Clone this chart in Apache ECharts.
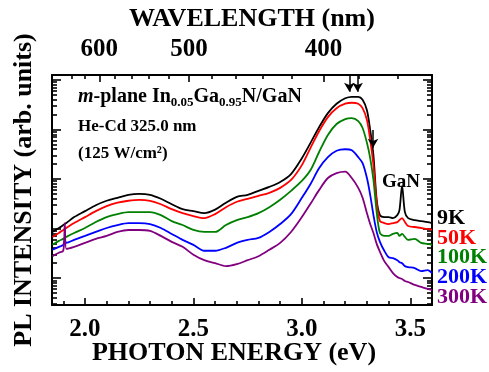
<!DOCTYPE html>
<html>
<head>
<meta charset="utf-8">
<script src="https://cdn.jsdelivr.net/npm/echarts@6/dist/echarts.min.js"></script>
<style>
html, body { margin: 0; padding: 0; background: #fff; }
#main { width: 489px; height: 372px; }
</style>
</head>
<body>
<div id="main"></div>
<script>
// photon energy (eV)
var energy = [1.85, 1.88, 1.90, 1.907, 1.914, 1.95, 2.00, 2.05, 2.10, 2.15, 2.20, 2.25, 2.30, 2.35, 2.40, 2.45,
    2.50, 2.55, 2.60, 2.65, 2.70, 2.75, 2.80, 2.85, 2.90, 2.95, 3.00, 3.04, 3.08, 3.12, 3.16, 3.20, 3.23, 3.26,
    3.28, 3.30, 3.315, 3.33, 3.345, 3.36, 3.38, 3.40, 3.42, 3.44, 3.45, 3.462, 3.475, 3.49, 3.52, 3.55, 3.58, 3.60];

// log10 of PL intensity (arb. units)
var log9K = [0.93, 1.01, 1.07, 1.09, 1.11, 1.23, 1.35, 1.47, 1.56, 1.62, 1.68, 1.70, 1.68, 1.60, 1.49, 1.39,
    1.35, 1.31, 1.38, 1.52, 1.64, 1.68, 1.76, 1.84, 1.94, 2.10, 2.42, 2.73, 3.05, 3.33, 3.52, 3.63, 3.66, 3.66,
    3.60, 3.39, 2.99, 2.48, 1.58, 1.27, 1.23, 1.23, 1.21, 1.27, 1.37, 1.86, 1.33, 1.21, 1.17, 1.15, 1.13, 1.11];
var log50K = [0.83, 0.91, 0.97, 0.99, 1.01, 1.11, 1.23, 1.35, 1.45, 1.52, 1.56, 1.58, 1.56, 1.49, 1.39, 1.31,
    1.25, 1.21, 1.29, 1.43, 1.54, 1.60, 1.66, 1.72, 1.82, 1.98, 2.28, 2.63, 2.97, 3.25, 3.43, 3.52, 3.54, 3.52,
    3.43, 3.19, 2.79, 2.28, 1.52, 1.15, 1.11, 1.09, 1.11, 1.13, 1.17, 1.21, 1.13, 1.05, 1.03, 1.01, 0.99, 0.97];
var log100K = [0.67, 0.75, 0.79, 0.81, 0.83, 0.91, 1.01, 1.13, 1.23, 1.29, 1.33, 1.33, 1.33, 1.27, 1.15, 1.07,
    0.97, 0.93, 0.93, 1.07, 1.17, 1.23, 1.31, 1.43, 1.58, 1.76, 1.96, 2.18, 2.55, 2.89, 3.11, 3.21, 3.23, 3.17,
    3.03, 2.73, 2.42, 1.98, 1.33, 0.91, 0.85, 0.85, 0.89, 0.91, 0.85, 0.89, 0.83, 0.77, 0.79, 0.71, 0.69, 0.67];
var log200K = [0.57, 0.63, 0.67, 0.77, 0.71, 0.77, 0.85, 0.93, 1.01, 1.07, 1.11, 1.11, 1.09, 1.01, 0.89, 0.77,
    0.67, 0.55, 0.55, 0.61, 0.71, 0.77, 0.81, 0.93, 1.09, 1.29, 1.62, 1.90, 2.22, 2.44, 2.57, 2.60, 2.58, 2.44,
    2.32, 2.02, 1.68, 1.27, 0.93, 0.73, 0.55, 0.42, 0.40, 0.36, 0.32, 0.30, 0.24, 0.22, 0.20, 0.14, 0.16, 0.10];
var log300K = [0.44, 0.51, 0.55, 1.11, 0.59, 0.63, 0.71, 0.79, 0.85, 0.93, 0.97, 0.97, 0.95, 0.85, 0.73, 0.63,
    0.47, 0.36, 0.30, 0.24, 0.28, 0.36, 0.44, 0.57, 0.71, 0.93, 1.23, 1.50, 1.78, 2.02, 2.12, 2.15, 2.02, 1.82,
    1.62, 1.31, 1.09, 0.91, 0.69, 0.53, 0.34, 0.22, 0.10, 0.02, 0.00, -0.02, -0.06, -0.08, -0.14, -0.18, -0.22, -0.24];

var seriesNames = ['9K', '50K', '100K', '200K', '300K'];
var seriesColors = ['#000000', '#ff0000', '#008000', '#0000ff', '#800080'];
var seriesLogs = [log9K, log50K, log100K, log200K, log300K];

// ticks
var energyMajor = [2.0, 2.5, 3.0, 3.5];
var energyMinor = [1.9, 2.1, 2.2, 2.3, 2.4, 2.6, 2.7, 2.8, 2.9, 3.1, 3.2, 3.3, 3.4, 3.6];
var waveMajor = [600, 500, 400];
var waveMinor = [640, 620, 580, 560, 540, 520, 480, 460, 440, 420, 380, 360];
var decades = [1, 10, 100, 1000, 10000];

// arrows marking the peaks on the 9K spectrum
var arrowEnergy = [3.219, 3.257, 3.328];
var arrowFrom = [12500, 12500, 980];
var arrowTo = [5750, 5750, 425];

var HC = 1239.84; // eV*nm
var xMin = 1.848, xMax = 3.60;
var yMin = 0.285, yMax = 12590;
var FONT = '"Liberation Serif", "Times New Roman", Times, serif';

var minorY = [];
[0.1, 1, 10, 100, 1000].forEach(function (d) {
    for (var m = 2; m <= 9; m++) {
        var v = d * m;
        if (v >= yMin && v <= yMax) minorY.push(v);
    }
});

function toEnergy(list) {
    return list.map(function (w) { return HC / w; });
}

function xAxisOf(pos, ticks, len, withLabels, showLine) {
    return {
        type: 'value', min: xMin, max: xMax, position: pos,
        axisLine: { show: showLine, onZero: false, lineStyle: { color: '#000', width: 2 } },
        axisTick: { show: true, inside: true, length: len, customValues: ticks, lineStyle: { color: '#000', width: 1.6 } },
        axisLabel: withLabels ? {
            show: true, customValues: ticks, color: '#000', fontSize: 25, fontWeight: 'bold', fontFamily: FONT,
            margin: pos === 'top' ? 13 : 12,
            formatter: pos === 'top'
                ? function (v) { return String(Math.round(HC / v)); }
                : function (v) { return v.toFixed(1); }
        } : { show: false },
        splitLine: { show: false }
    };
}

function yAxisOf(pos, ticks, len, showLine) {
    return {
        type: 'log', logBase: 10, min: yMin, max: yMax, position: pos,
        axisLine: { show: showLine, onZero: false, lineStyle: { color: '#000', width: 2 } },
        axisTick: { show: true, inside: true, length: len, customValues: ticks, lineStyle: { color: '#000', width: 1.6 } },
        axisLabel: { show: false },
        splitLine: { show: false }
    };
}

function text(str, x, y, size, color, align, extra) {
    var el = {
        type: 'text', x: x, y: y, z: 100,
        style: {
            text: str, fill: color, fontSize: size, fontWeight: 'bold', fontFamily: FONT,
            align: align, verticalAlign: 'middle', textAlign: align, textVerticalAlign: 'middle'
        }
    };
    if (extra) {
        for (var k in extra) el[k] = extra[k];
    }
    return el;
}

var series = seriesNames.map(function (name, i) {
    var s = {
        name: name,
        type: 'line',
        xAxisIndex: 0,
        yAxisIndex: 0,
        showSymbol: false,
        symbol: 'none',
        smooth: 0.3,
        animation: false,
        lineStyle: { color: seriesColors[i], width: 1.8 },
        data: energy.map(function (e, j) { return [e, Math.pow(10, seriesLogs[i][j])]; })
    };
    if (i === 0) {
        s.markLine = {
            silent: true,
            symbol: ['none', 'arrow'],
            symbolSize: [8, 9],
            label: { show: false },
            lineStyle: { color: '#000', width: 1.5, type: 'solid' },
            data: arrowEnergy.map(function (e, k) {
                return [{ coord: [e, arrowFrom[k]] }, { coord: [e, arrowTo[k]] }];
            })
        };
    }
    return s;
});

var annotation = {
    type: 'text', x: 78, y: 97, z: 100,
    style: {
        text: '{i|m}-plane In{s|0.05}Ga{s|0.95}N/GaN',
        fill: '#000', fontSize: 20, fontWeight: 'bold', fontFamily: FONT, lineHeight: 24,
        align: 'left', verticalAlign: 'middle', textAlign: 'left', textVerticalAlign: 'middle',
        rich: {
            i: { fontSize: 20, fontStyle: 'italic', fontWeight: 'bold', fontFamily: FONT, fill: '#000' },
            s: { fontSize: 13, fontWeight: 'bold', fontFamily: FONT, fill: '#000', verticalAlign: 'bottom' }
        }
    }
};

var graphics = [
    text('WAVELENGTH (nm)', 252, 19, 26, '#000', 'center'),
    text('PHOTON ENERGY (eV)', 234, 353, 26, '#000', 'center'),
    text('PL INTENSITY (arb. units)', 24, 190, 26, '#000', 'center', { rotation: Math.PI / 2 }),
    annotation,
    text('He-Cd 325.0 nm', 78, 127, 17, '#000', 'left'),
    text('(125 W/cm²)', 78, 154, 17, '#000', 'left'),
    text('GaN', 382, 182, 19, '#000', 'left')
];
var labelY = [218, 238, 257, 277, 297];
seriesNames.forEach(function (name, i) {
    graphics.push(text(name, 437, labelY[i], 22, seriesColors[i], 'left'));
});

var chart = echarts.init(document.getElementById('main'));
chart.setOption({
    animation: false,
    backgroundColor: '#ffffff',
    grid: { left: 52, right: 57, top: 75, bottom: 67, containLabel: false, outerBoundsMode: 'none' },
    xAxis: [
        xAxisOf('bottom', energyMajor, 7, true, true),
        xAxisOf('bottom', energyMinor, 4, false, false),
        xAxisOf('top', toEnergy(waveMajor), 7, true, true),
        xAxisOf('top', toEnergy(waveMinor), 4, false, false)
    ],
    yAxis: [
        yAxisOf('left', decades, 9, true),
        yAxisOf('left', minorY, 5, false),
        yAxisOf('right', decades, 9, true),
        yAxisOf('right', minorY, 5, false)
    ],
    series: series,
    graphic: graphics
});
</script>
</body>
</html>
